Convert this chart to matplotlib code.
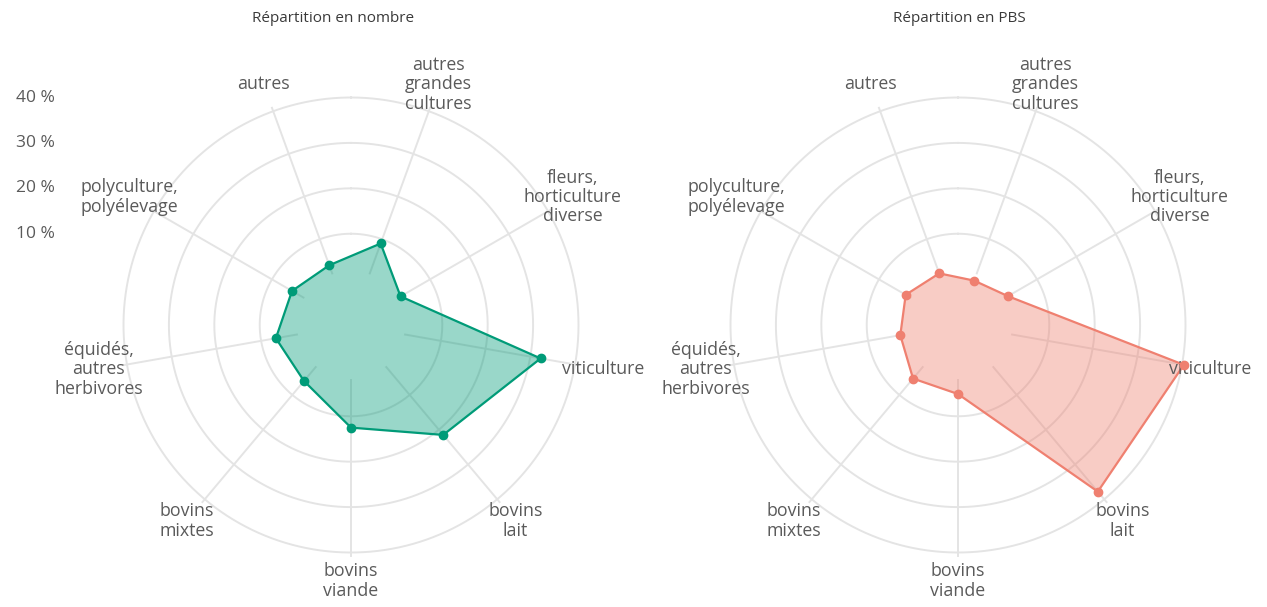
import numpy as np
import matplotlib
matplotlib.use('Agg')
import matplotlib.pyplot as plt

plt.rcParams['font.family'] = ['Open Sans', 'DejaVu Sans']

# categories, clockwise starting just right of the top
categories = ["autres\ngrandes\ncultures", "fleurs,\nhorticulture\ndiverse", "viticulture",
              "bovins\nlait", "bovins\nviande", "bovins\nmixtes",
              "équidés,\nautres\nherbivores", "polyculture,\npolyélevage", "autres"]
nombre = [9.0, 2.5, 32.3, 21.5, 12.5, 6.0, 6.7, 4.9, 3.9]
pbs = [0.3, 2.6, 40.4, 37.8, 5.1, 5.3, 2.8, 3.2, 2.0]
titles = ["Répartition en nombre", "Répartition en PBS"]
ticks = [10, 20, 30, 40]
tick_labels = ["10 %", "20 %", "30 %", "40 %"]

W, H = 1267, 607
fig = plt.figure(figsize=(W / 100, H / 100), dpi=100)

grid_col = '#e4e4e4'
text_col = '#5a5a5a'
line_cols = ['#009b78', '#ef8070']

n = len(categories)
angles = np.deg2rad(20 + 40 * np.arange(n))
R = 227.5
centers = [(351, 325), (958, 325)]
title_x = [333, 959]

axes = []
for k, (cx, cy) in enumerate(centers):
    ax = fig.add_axes([(cx - R) / W, (H - cy - R) / H, 2 * R / W, 2 * R / H], projection='polar')
    ax.set_theta_zero_location('N')
    ax.set_theta_direction(-1)
    ax.set_ylim(0, 40)
    ax.set_rorigin(-10.1)
    ax.set_axis_off()

    # rings and spokes
    t = np.linspace(0, 2 * np.pi, 400)
    for v in ticks:
        ax.plot(t, np.full_like(t, v), color=grid_col, lw=1.4, clip_on=False, zorder=1)
    for a in angles:
        ax.plot([a, a], [2, 40.8], color=grid_col, lw=1.4, clip_on=False, zorder=1)

    vals = nombre if k == 0 else pbs
    th = np.append(angles, angles[0])
    rr = np.append(vals, vals[0])
    ax.fill(th, rr, color=line_cols[k], alpha=0.4, lw=0, zorder=2, clip_on=False)
    ax.plot(th, rr, color=line_cols[k], lw=1.6, zorder=3, clip_on=False)
    ax.plot(angles, vals, 'o', color=line_cols[k], ms=6, zorder=4, clip_on=False)

    for a, lab in zip(angles, categories):
        ax.text(a, 46.3, lab, ha='center', va='center', fontsize=12.8, color=text_col,
                linespacing=1.1, clip_on=False)

    fig.text(title_x[k] / W, 1 - 18 / H, titles[k], ha='center', va='center',
             fontsize=11, color='#3a3a3a')
    axes.append(ax)

# radial tick labels on the far left
for v, lab in zip(ticks, tick_labels):
    y = axes[0].transData.transform((0, v))[1]
    fig.text(55 / W, y / H, lab, ha='right', va='center', fontsize=12.5, color=text_col)

fig.savefig('out.png', dpi=100, facecolor='white')
